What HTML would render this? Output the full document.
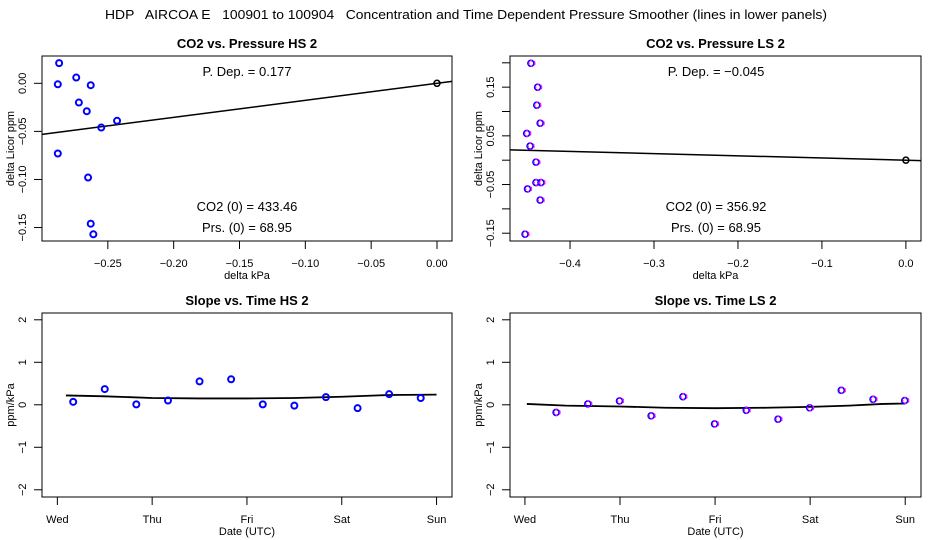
<!DOCTYPE html>
<html><head><meta charset="utf-8"><style>
html,body{margin:0;padding:0;background:#fff;}
svg{display:block;font-family:"Liberation Sans",sans-serif;}
</style></head><body>
<svg id="chart" width="936" height="540" viewBox="0 0 936 540">
<text x="466" y="19" font-size="13" text-anchor="middle" textLength="722" lengthAdjust="spacingAndGlyphs" xml:space="preserve">HDP   AIRCOA E   100901 to 100904   Concentration and Time Dependent Pressure Smoother (lines in lower panels)</text>
<g id="p1"></g>
<g id="p2"></g>
<g id="p3"></g>
<g id="p4"></g>
</svg>
<script>
// Panel 1 data (HS scatter)
const hsPressure = [-0.287,-0.288,-0.274,-0.263,-0.272,-0.266,-0.255,-0.243,-0.288,-0.265,-0.263,-0.261];
const hsCo2 = [0.021,-0.001,0.006,-0.002,-0.020,-0.029,-0.046,-0.039,-0.073,-0.098,-0.146,-0.157];
const hsSlope = 0.177;
// Panel 2 data (LS scatter)
const lsPressure = [-0.446,-0.438,-0.439,-0.435,-0.451,-0.447,-0.440,-0.440,-0.434,-0.450,-0.435,-0.453];
const lsCo2 = [0.199,0.150,0.113,0.076,0.055,0.029,-0.004,-0.046,-0.046,-0.059,-0.082,-0.152];
const lsSlope = -0.045;
// Panel 3 data (HS slope vs time, days since Wed)
const hsDays = [0.167,0.5,0.833,1.167,1.5,1.833,2.167,2.5,2.833,3.167,3.5,3.833];
const hsSlopes = [0.07,0.37,0.01,0.10,0.55,0.60,0.01,-0.02,0.18,-0.08,0.25,0.16];
const hsSmoothDays = [0.09,0.5,1,1.5,2,2.5,3,3.5,4];
const hsSmoothVals = [0.22,0.20,0.16,0.15,0.15,0.16,0.19,0.23,0.24];
// Panel 4 data (LS slope vs time)
const lsDays = [0.333,0.667,1,1.333,1.667,2,2.333,2.667,3,3.333,3.667,4];
const lsSlopes = [-0.18,0.02,0.09,-0.26,0.19,-0.45,-0.13,-0.34,-0.07,0.34,0.13,0.10];
const lsSmoothDays = [0.02,0.43,1,1.48,2,2.53,3,3.41,3.76,4];
const lsSmoothVals = [0.02,-0.02,-0.04,-0.07,-0.08,-0.07,-0.05,-0.02,0.02,0.03];
const dayLabels = ["Wed","Thu","Fri","Sat","Sun"];

const NS="http://www.w3.org/2000/svg";
function mk(parent,tag,attrs,text){const e=document.createElementNS(NS,tag);for(const k in attrs)e.setAttribute(k,attrs[k]);if(text!==undefined)e.textContent=text;parent.appendChild(e);return e;}
function scale(d0,d1,r0,r1){return v=>r0+(v-d0)/(d1-d0)*(r1-r0);}

function panel(g,o){
  const X=scale(o.xd[0],o.xd[1],o.box[0],o.box[2]);
  const Y=scale(o.yd[0],o.yd[1],o.box[3],o.box[1]);
  const t=mk(g,'text',{x:(o.box[0]+o.box[2])/2,y:o.box[1]-8,'font-size':13,'font-weight':'bold','text-anchor':'middle'},o.title);
  
  
  const r=mk(g,'rect',{x:o.box[0],y:o.box[1],width:o.box[2]-o.box[0],height:o.box[3]-o.box[1],fill:'none',stroke:'#000','stroke-width':1});
  
  
  const ax=mk(g,'g',{});
  
  
  o.xticks.forEach((v,i)=>{
    mk(ax,'line',{x1:X(v),x2:X(v),y1:o.box[3],y2:o.box[3]+8,stroke:'#000'});
    const l=mk(ax,'text',{x:X(v),y:o.box[3]+26,'font-size':11,'text-anchor':'middle'},o.xlabels[i]);
    
    
  });
  const xl=mk(g,'text',{x:(o.box[0]+o.box[2])/2,y:o.box[3]+38,'font-size':11,'text-anchor':'middle'},o.xtitle);
  
  
  const ay=mk(g,'g',{});
  
  
  const ax0=o.box[0];
  o.yticks.forEach((v,i)=>{
    mk(ay,'line',{x1:ax0-8,x2:ax0,y1:Y(v),y2:Y(v),stroke:'#000'});
    if(o.ylabels[i]){
      const px=ax0-16, py=Y(v);
      const l=mk(ay,'text',{x:px,y:py,'font-size':11,'text-anchor':'middle',transform:`rotate(-90 ${px} ${py})`},o.ylabels[i]);
      
      
    }
  });
  const yx=o.box[0]-28, yy=(o.box[1]+o.box[3])/2;
  const yl=mk(g,'text',{x:yx,y:yy,'font-size':11,'text-anchor':'middle',transform:`rotate(-90 ${yx} ${yy})`},o.ytitle);
  
  
  return {X,Y};
}
function pts(g,X,Y,xs,ys,two){
  xs.forEach((x,i)=>{
    if(two){
      const b=mk(g,'circle',{cx:X(x)-0.5,cy:Y(ys[i]),r:3,fill:'none',stroke:'#0000ff','stroke-width':1.6});
      
      
      const c=mk(g,'circle',{cx:X(x)+0.5,cy:Y(ys[i]),r:3,fill:'none',stroke:'#ff00ff','stroke-width':1.4,'stroke-dasharray':'2 2'});
      
      
    } else {
      const c=mk(g,'circle',{cx:X(x),cy:Y(ys[i]),r:3,fill:'none',stroke:'#0000ff','stroke-width':2});
      
      
    }
  });
}
function txt(g,x,y,s,name){const t=mk(g,'text',{x:x,y:y,'font-size':13,'text-anchor':'middle','xml:space':'preserve'},s);
  
  }

(function(){
  const g=document.getElementById('p1');
  const xd=[-0.300,0.0114], yd=[-0.164,0.0284];
  const {X,Y}=panel(g,{box:[42,56,452,241],xd,yd,title:'CO2 vs. Pressure HS 2',
    xticks:[-0.25,-0.2,-0.15,-0.1,-0.05,0],xlabels:['−0.25','−0.20','−0.15','−0.10','−0.05','0.00'],
    yticks:[-0.15,-0.1,-0.05,0],ylabels:['−0.15','−0.10','−0.05','0.00'],xtitle:'delta kPa',ytitle:'delta Licor ppm'});
  const l=mk(g,'line',{x1:X(xd[0]),y1:Y(xd[0]*hsSlope),x2:X(xd[1]),y2:Y(xd[1]*hsSlope),stroke:'#000','stroke-width':1.5});
  
  
  pts(g,X,Y,hsPressure,hsCo2,false);
  const o=mk(g,'circle',{cx:X(0),cy:Y(0),r:3,fill:'none',stroke:'#000','stroke-width':1.5});
  
  
  txt(g,247,76,'P. Dep. =  '+hsSlope.toFixed(3),'pressure-dependence-label');
  txt(g,247,211,'CO2 (0) =  433.46','co2-zero-label');
  txt(g,247,232,'Prs. (0) =  68.95','pressure-zero-label');
})();
(function(){
  const g=document.getElementById('p2');
  const xd=[-0.4715,0.018], yd=[-0.166,0.214];
  const {X,Y}=panel(g,{box:[510,56,921,241],xd,yd,title:'CO2 vs. Pressure LS 2',
    xticks:[-0.4,-0.3,-0.2,-0.1,0],xlabels:['−0.4','−0.3','−0.2','−0.1','0.0'],
    yticks:[-0.15,-0.1,-0.05,0,0.05,0.1,0.15,0.2],ylabels:['−0.15','','−0.05','','0.05','','0.15',''],xtitle:'delta kPa',ytitle:'delta Licor ppm'});
  const l=mk(g,'line',{x1:X(xd[0]),y1:Y(xd[0]*lsSlope),x2:X(xd[1]),y2:Y(xd[1]*lsSlope),stroke:'#000','stroke-width':1.5});
  
  
  pts(g,X,Y,lsPressure,lsCo2,true);
  const o=mk(g,'circle',{cx:X(0),cy:Y(0),r:3,fill:'none',stroke:'#000','stroke-width':1.5});
  
  
  txt(g,716,76,'P. Dep. =  −0.045','pressure-dependence-label');
  txt(g,716,211,'CO2 (0) =  356.92','co2-zero-label');
  txt(g,716,232,'Prs. (0) =  68.95','pressure-zero-label');
})();
function timePanel(id,box,title,days,vals,sd,sv,two,xd){
  const g=document.getElementById(id);
  const {X,Y}=panel(g,{box,xd,yd:[-2.17,2.16],title,
    xticks:[0,1,2,3,4],xlabels:dayLabels,yticks:[-2,-1,0,1,2],ylabels:['−2','−1','0','1','2'],
    xtitle:'Date (UTC)',ytitle:'ppm/kPa'});
  const p=mk(g,'polyline',{points:sd.map((d,i)=>X(d)+','+Y(sv[i])).join(' '),fill:'none',stroke:'#000','stroke-width':1.8});
  
  
  pts(g,X,Y,days,vals,two);
}
timePanel('p3',[42,313,452,497],'Slope vs. Time HS 2',hsDays,hsSlopes,hsSmoothDays,hsSmoothVals,false,[-0.162,4.163]);
timePanel('p4',[510,313,921,497],'Slope vs. Time LS 2',lsDays,lsSlopes,lsSmoothDays,lsSmoothVals,true,[-0.157,4.166]);
</script>
</body></html>
